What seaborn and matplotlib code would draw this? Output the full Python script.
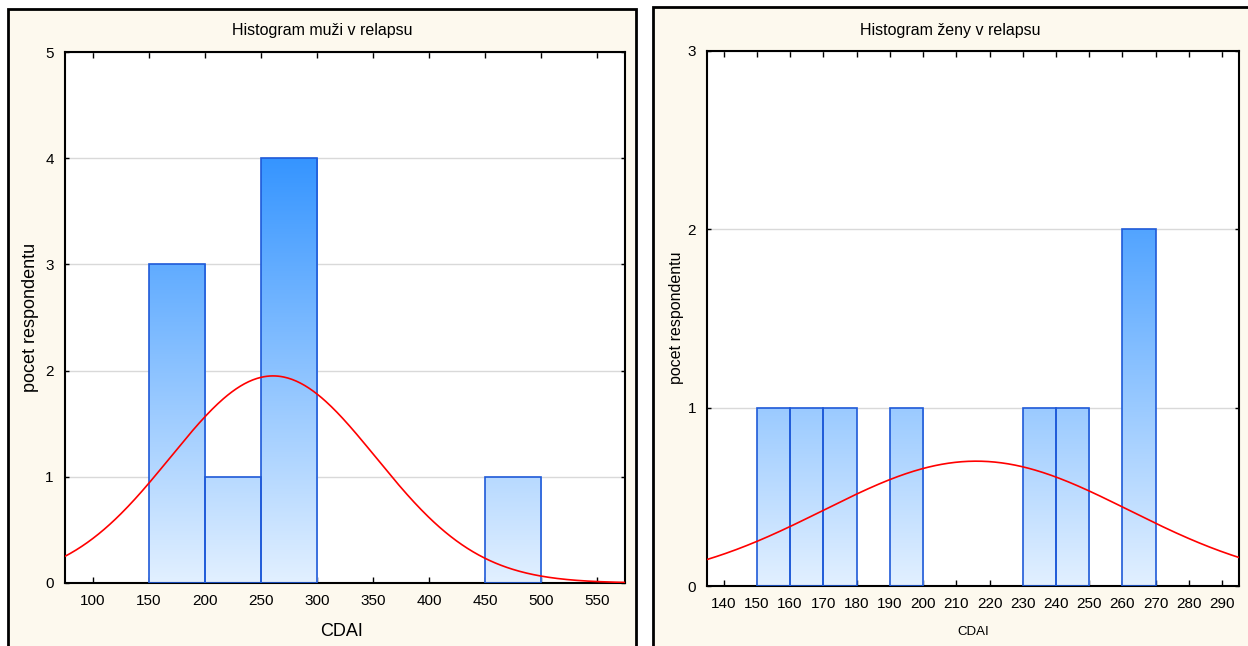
import numpy as np
import matplotlib
matplotlib.use("Agg")
import matplotlib.pyplot as plt
import seaborn as sns
from matplotlib.patches import Rectangle
from matplotlib.colors import LinearSegmentedColormap

# data
muzi_edges = [150, 200, 250, 300, 350, 400, 450, 500]
muzi_counts = [3, 1, 4, 0, 0, 0, 1]
muzi_xticks = [100, 150, 200, 250, 300, 350, 400, 450, 500, 550]
muzi_fit = {"mean": 261, "sd": 91.7, "peak": 1.95}

zeny_edges = [150, 160, 170, 180, 190, 200, 210, 220, 230, 240, 250, 260, 270]
zeny_counts = [1, 1, 1, 0, 1, 0, 0, 0, 1, 1, 0, 2]
zeny_xticks = list(range(140, 300, 10))
zeny_fit = {"mean": 216, "sd": 46, "peak": 0.70}

sns.set_theme(style="white")
plt.rcParams['font.family'] = ['Liberation Sans', 'DejaVu Sans']
plt.rcParams['text.color'] = 'black'
plt.rcParams['xtick.color'] = 'black'
plt.rcParams['ytick.color'] = 'black'

fig = plt.figure(figsize=(12.48, 6.46), dpi=100)
fig.patch.set_facecolor("white")

cream = "#fdf9ee"
# panel frames (behind the axes)
fig.patches.append(Rectangle((8 / 1248, -0.02), 628 / 1248, 1.02 - 9 / 646,
                             transform=fig.transFigure, facecolor=cream,
                             edgecolor="black", linewidth=2, zorder=-5))
fig.patches.append(Rectangle((653 / 1248, -0.02), 0.5, 1.02 - 7 / 646,
                             transform=fig.transFigure, facecolor=cream,
                             edgecolor="black", linewidth=2, zorder=-5))

grad = LinearSegmentedColormap.from_list("g", ["#e2f0ff", "#0a7eff"])


def panel(rect, edges, counts, xlim, ymax, xticks, fit, title, tx, ylab, ylx, ylfs, xlfs, xlx):
    ax = fig.add_axes(rect)
    ax.set_facecolor("white")
    centers = [(a + b) / 2 for a, b in zip(edges[:-1], edges[1:])]
    sns.histplot(x=centers, weights=counts, bins=edges, ax=ax, stat="count",
                 facecolor="none", edgecolor="#1f5ad8", linewidth=1.2, zorder=3)
    ax.set_xlim(*xlim)
    ax.set_ylim(0, ymax)
    # gradient fill, relative to the axes height
    g = np.linspace(0, 1, 256).reshape(-1, 1)
    for p in list(ax.patches):
        if p.get_height() <= 0:
            p.set_visible(False)
            continue
        im = ax.imshow(g, cmap=grad, origin="lower", aspect="auto",
                       extent=(xlim[0], xlim[1], 0, ymax), zorder=2)
        im.set_clip_path(p)
    ax.set_xlim(*xlim)
    ax.set_ylim(0, ymax)
    xs = np.linspace(xlim[0], xlim[1], 400)
    ys = fit["peak"] * np.exp(-0.5 * ((xs - fit["mean"]) / fit["sd"]) ** 2)
    sns.lineplot(x=xs, y=ys, ax=ax, color="#ff0000", linewidth=1.2, zorder=4)
    ax.set_yticks(range(0, ymax + 1))
    ax.yaxis.grid(True, color="#d9d9d9", linewidth=1, zorder=1)
    ax.set_axisbelow(True)
    ax.set_xticks(xticks)
    ax.tick_params(axis="x", direction="in", top=True, bottom=True, length=4,
                   width=1, color="black", labelsize=11, pad=8)
    ax.tick_params(axis="y", direction="in", left=True, right=True, length=3,
                   width=1, color="black", labelsize=11, pad=8)
    for s in ax.spines.values():
        s.set_color("black")
        s.set_linewidth(1.5)
    ax.set_xlabel("")
    ax.set_ylabel("")
    fig.text(tx, 1 - 31 / 646, title, ha="center", va="center", fontsize=11.5)
    fig.text(ylx, 0.508, ylab, rotation=90, ha="center", va="center", fontsize=ylfs)
    fig.text(xlx, 1 - 632 / 646, "CDAI", ha="center", va="center", fontsize=xlfs)
    return ax


panel([64.8 / 1248, 63 / 646, 559.8 / 1248, 531 / 646], muzi_edges, muzi_counts,
      (75.2, 574.6), 5, muzi_xticks, muzi_fit, "Histogram muži v relapsu",
      322 / 1248, "pocet respondentu", 31 / 1248, 13, 13, 342 / 1248)
panel([707 / 1248, 60 / 646, 531.8 / 1248, 535 / 646], zeny_edges, zeny_counts,
      (135, 295), 3, zeny_xticks, zeny_fit, "Histogram ženy v relapsu",
      950 / 1248, "pocet respondentu", 676 / 1248, 11.5, 9.5, 973 / 1248)

fig.savefig("out.png", dpi=100, facecolor="white")
